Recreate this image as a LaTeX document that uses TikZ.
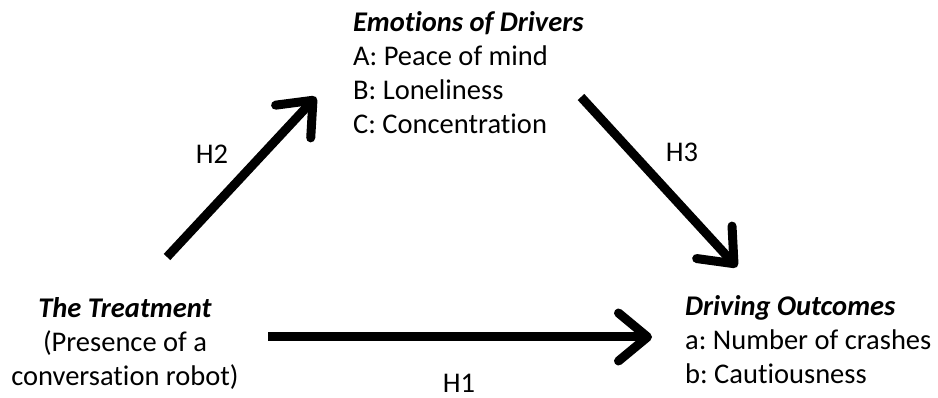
\documentclass[tikz,border=0pt]{standalone}
\usepackage{fontspec}
\setmainfont[Ligatures=NoCommon]{Carlito}
\usetikzlibrary{arrows.meta}
\frenchspacing
\begin{document}
\begin{tikzpicture}[x=1pt,y=-1pt,
  txt/.style={inner sep=0pt, font=\fontsize{28.5}{34}\selectfont\frenchspacing},
  hyp/.style={inner sep=0pt, font=\fontsize{28.5}{34}\selectfont},
  arr/.style={line width=9pt, -{Straight Barb[length=29pt,width=48pt,round]}}]
\useasboundingbox (0,0) rectangle (938,398);
% text blocks
\node[txt, anchor=base west] (emo) at (353,32)
  {\begin{tabular}[t]{@{}l@{}}\textbf{\textit{Emotions of Drivers}}\\A: Peace of mind\\B: Loneliness\\C: Concentration\end{tabular}};
\node[txt, anchor=base] (treat) at (125,318)
  {\begin{tabular}[t]{@{}c@{}}\textbf{\textit{The Treatment}}\\(Presence of a\\conversation robot)\end{tabular}};
\node[txt, anchor=base west] (drive) at (685,316)
  {\begin{tabular}[t]{@{}l@{}}\textbf{\textit{Driving Outcomes}}\\a: Number of crashes\\b: Cautiousness\end{tabular}};
% connector end points
\coordinate (h1s) at (268,337);
\coordinate (h1e) at (652,337);
\coordinate (h2s) at (167,257);
\coordinate (h2e) at (316,97);
\coordinate (h3s) at (581,97);
\coordinate (h3e) at (737,267);
\draw[arr] (h1s) -- (h1e);
\draw[arr] (h2s) -- (h2e);
\draw[arr] (h3s) -- (h3e);
% labels
\node[hyp] (lh1) at (459,383) {H1};
\node[hyp] (lh2) at (212,154) {H2};
\node[hyp] (lh3) at (682,152) {H3};
\end{tikzpicture}
\end{document}
